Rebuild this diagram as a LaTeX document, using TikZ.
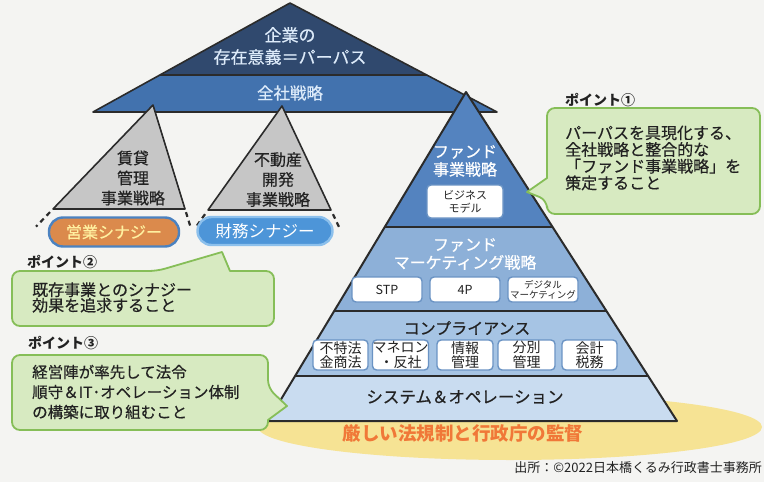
\documentclass[tikz,border=0pt]{standalone}
\usepackage{fontspec}
\setmainfont{Noto Sans CJK JP}
\newfontfamily\jpmed{Noto Sans CJK JP}[FakeBold=0.5]
\usetikzlibrary{calc}
\definecolor{bg}{HTML}{F4F4F2}
\definecolor{navy}{HTML}{30496E}
\definecolor{bandblue}{HTML}{4272AE}
\definecolor{outc}{HTML}{2B2B2B}
\definecolor{trigray}{HTML}{C6C6C6}
\definecolor{fa}{HTML}{5483BF}
\definecolor{fb}{HTML}{8DB0D8}
\definecolor{fc}{HTML}{A6C4E4}
\definecolor{fd}{HTML}{C9DCF0}
\definecolor{boxbd}{HTML}{6A93C4}
\definecolor{cfill}{HTML}{D7EAC1}
\definecolor{cbd}{HTML}{86BE58}
\definecolor{ellc}{HTML}{F6E394}
\definecolor{redt}{HTML}{F07838}
\definecolor{pillor}{HTML}{DB8A4C}
\definecolor{pillorbd}{HTML}{4B82C0}
\definecolor{pillbl}{HTML}{4D95D8}
\definecolor{pillblbd}{HTML}{8CC0EC}
\definecolor{lighttxt}{HTML}{DDEBFA}
\definecolor{darktxt}{HTML}{222222}
\definecolor{yeltxt}{HTML}{FFF0A0}
\tikzset{
  outl/.style={draw=outc, line width=1.6, line join=round},
  sepline/.style={draw=outc, line width=2.6},
  dashext/.style={draw=outc, line width=2.2, dash pattern=on 5 off 4},
  txt/.style={inner sep=0, align=center, text=darktxt},
  ibox/.style={draw=boxbd, line width=1.4, fill=white, rounded corners=4, inner sep=0, align=center, text=darktxt},
  pill/.style={rounded corners=14, line width=2.4, inner sep=0},
  callout/.style={fill=cfill, draw=cbd, line width=1.8, line join=round},
  ctext/.style={inner sep=0, align=left, text=darktxt, anchor=west},
  plabel/.style={inner sep=0, anchor=west, text=darktxt, font=\fontsize{14}{16}\selectfont\bfseries},
}
\begin{document}
\begin{tikzpicture}[x=1pt,y=-1pt]
\useasboundingbox (0,0) rectangle (764,482);
\fill[bg] (0,0) rectangle (764,482);
% regulation ellipse
\fill[ellc] (510,427) ellipse [x radius=252, y radius=33];
% top corporate triangle
\coordinate (Ta) at (290,3);
\coordinate (Tl) at (93,112);
\coordinate (Tr) at (497,112);
\coordinate (Tsl) at ($(Ta)!0.6606!(Tl)$);
\coordinate (Tsr) at ($(Ta)!0.6606!(Tr)$);
\fill[bandblue] (Tsl) -- (Tsr) -- (Tr) -- (Tl) -- cycle;
\fill[navy] (Ta) -- (Tsl) -- (Tsr) -- cycle;
\draw[sepline] (Tsl) -- (Tsr);
\draw[outl] (Ta) -- (Tl) -- (Tr) -- cycle;
% left gray triangle
\coordinate (La) at (153,105);
\coordinate (Ll) at (53,209);
\coordinate (Lr) at (185,209);
\filldraw[fill=trigray, outl] (La) -- (Ll) -- (Lr) -- cycle;
\draw[dashext] ($(La)!1.03!(Ll)$) -- ($(La)!1.17!(Ll)$);
\draw[dashext] ($(La)!1.03!(Lr)$) -- ($(La)!1.17!(Lr)$);
% middle gray triangle
\coordinate (Ma) at (282,106);
\coordinate (Ml) at (208,210);
\coordinate (Mr) at (331,210);
\filldraw[fill=trigray, outl] (Ma) -- (Ml) -- (Mr) -- cycle;
\draw[dashext] ($(Ma)!1.04!(Ml)$) -- ($(Ma)!1.18!(Ml)$);
\draw[dashext] ($(Ma)!1.04!(Mr)$) -- ($(Ma)!1.18!(Mr)$);
% synergy pills
\node[pill, fill=pillor, draw=pillorbd, minimum width=130, minimum height=29, text=yeltxt, font=\fontsize{16}{18}\selectfont\jpmed] (eig) at (114,232) {営業シナジー};
\node[pill, fill=pillbl, draw=pillblbd, minimum width=135, minimum height=28, text=white, font=\fontsize{16.5}{18}\selectfont] (zai) at (265,231) {財務シナジー};
% main fund pyramid
\coordinate (A) at (466,92);
\coordinate (BL) at (268,421);
\coordinate (BR) at (677,421);
\coordinate (L1) at ($(A)!0.4103!(BL)$);
\coordinate (R1) at ($(A)!0.4103!(BR)$);
\coordinate (L2) at ($(A)!0.6657!(BL)$);
\coordinate (R2) at ($(A)!0.6657!(BR)$);
\coordinate (L3) at ($(A)!0.8632!(BL)$);
\coordinate (R3) at ($(A)!0.8632!(BR)$);
\fill[fa] (A) -- (L1) -- (R1) -- cycle;
\fill[fb] (L1) -- (L2) -- (R2) -- (R1) -- cycle;
\fill[fc] (L2) -- (L3) -- (R3) -- (R2) -- cycle;
\fill[fd] (L3) -- (BL) -- (BR) -- (R3) -- cycle;
\draw[sepline] (L1) -- (R1);
\draw[sepline] (L2) -- (R2);
\draw[sepline] (L3) -- (R3);
\draw[outl, line width=2] (A) -- (BL) -- (BR) -- cycle;
% inner boxes
\node[ibox, minimum width=76, minimum height=33, font=\fontsize{11}{13}\selectfont] (bm) at (465,201.5) {ビジネス\\モデル};
\node[ibox, minimum width=70, minimum height=25, font=\fontsize{12.5}{14}\selectfont] (stp) at (387,289.5) {STP};
\node[ibox, minimum width=70, minimum height=25, font=\fontsize{12.5}{14}\selectfont] (fourp) at (465,289.5) {4P};
\node[ibox, minimum width=70, minimum height=25, font=\fontsize{9.5}{10}\selectfont] (dm) at (543,289.5) {デジタル\\マーケティング};
\node[ibox, minimum width=55, minimum height=30, font=\fontsize{14}{14.5}\selectfont] (c1) at (340.5,355) {不特法\\金商法};
\node[ibox, minimum width=55, minimum height=30, font=\fontsize{14}{14.5}\selectfont] (c2) at (400.5,355) {マネロン\\・反社};
\node[ibox, minimum width=56, minimum height=30, font=\fontsize{14}{14.5}\selectfont] (c3) at (465,355) {情報\\管理};
\node[ibox, minimum width=57, minimum height=30, font=\fontsize{14}{14.5}\selectfont] (c4) at (526.5,355) {分別\\管理};
\node[ibox, minimum width=55, minimum height=30, font=\fontsize{14}{14.5}\selectfont] (c5) at (589.5,355) {会計\\税務};
% callouts
\draw[callout, rounded corners=8] (547,108) -- (760,108) -- (760,214) -- (547,214) -- (547,200) [sharp corners] -- (527,192) -- (547,178) [rounded corners=8] -- cycle;
\draw[callout, rounded corners=8] (12,271) -- (157,271) [sharp corners] -- (222,252) -- (230,271) [rounded corners=8] -- (274,271) -- (274,326) -- (12,326) -- cycle;
\draw[callout, rounded corners=8] (12,355) -- (268,355) -- (268,388) [sharp corners] -- (287,406) -- (268,420) [rounded corners=8] -- (268,430) -- (12,430) -- cycle;
% texts
\node[txt, text=lighttxt, font=\fontsize{17}{22}\selectfont\jpmed] (purpose) at (290,46) {企業の\\存在意義＝パーパス};
\node[txt, text=lighttxt, font=\fontsize{16.5}{18}\selectfont\jpmed] (zensha) at (290,93) {全社戦略};
\node[txt, font=\fontsize{16}{20}\selectfont\jpmed] (chintai) at (133,178) {賃貸\\管理\\事業戦略};
\node[txt, font=\fontsize{16}{20}\selectfont\jpmed] (fudosan) at (278,179.5) {不動産\\開発\\事業戦略};
\node[txt, text=white, font=\fontsize{16}{18}\selectfont\jpmed] (fundbiz) at (465,161) {ファンド\\事業戦略};
\node[txt, text=white, font=\fontsize{16}{18}\selectfont\jpmed] (fundmk) at (465,254) {ファンド\\マーケティング戦略};
\node[txt, font=\fontsize{16}{18}\selectfont\jpmed] (comp) at (467,328) {コンプライアンス};
\node[txt, font=\fontsize{16.5}{18}\selectfont\jpmed] (sysop) at (465,397) {システム＆オペレーション};
\node[txt, text=redt, font=\fontsize{18.5}{20}\selectfont\bfseries] (reg) at (463,433) {厳しい法規制と行政庁の監督};
\node[inner sep=0, anchor=east, text=darktxt, font=\fontsize{13}{15}\selectfont] (src) at (762,468) {出所：©2022日本橋くるみ行政書士事務所};
\node[plabel] (p1) at (565,100) {ポイント①};
\node[plabel] (p2) at (27,262) {ポイント②};
\node[plabel] (p3) at (28,343) {ポイント③};
\node[ctext, font=\fontsize{16}{16.7}\selectfont\jpmed] (t1) at (565,158) {パーパスを具現化する、\\全社戦略と整合的な\\「ファンド事業戦略」を\\策定すること};
\node[ctext, font=\fontsize{16}{15.5}\selectfont\jpmed] (t2) at (32,297.5) {既存事業とのシナジー\\効果を追求すること};
\node[ctext, font=\fontsize{15.5}{20}\selectfont\jpmed] (t3) at (32,392) {経営陣が率先して法令\\順守＆IT･オペレーション体制\\の構築に取り組むこと};
\end{tikzpicture}
\end{document}
